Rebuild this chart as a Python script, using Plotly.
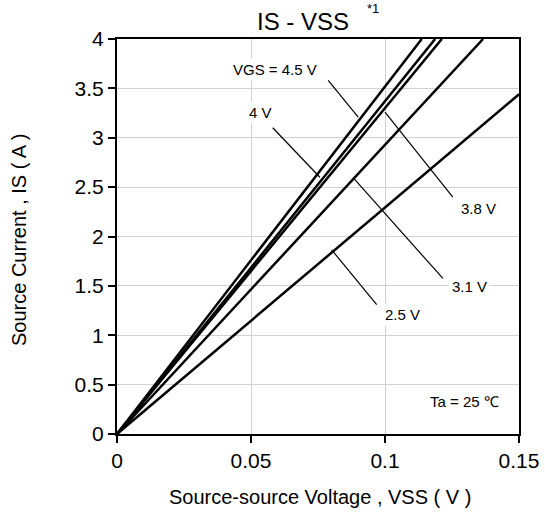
import plotly.graph_objects as go

# ---- data ----
vgs_labels = ["4.5 V", "4 V", "3.8 V", "3.1 V", "2.5 V"]
vss_end = [0.1137, 0.1187, 0.1212, 0.1366, 0.150]   # V at end of each line
is_end = [4.0, 4.0, 4.0, 4.0, 3.44]                 # A at end of each line

x_ticks = [0, 0.05, 0.1, 0.15]
x_tick_text = ["0", "0.05", "0.1", "0.15"]
y_ticks = [0, 0.5, 1, 1.5, 2, 2.5, 3, 3.5, 4]
y_tick_text = ["0", "0.5", "1", "1.5", "2", "2.5", "3", "3.5", "4"]

# label texts, positions (data coords) and leader lines (data coords)
label_text = ["VGS = 4.5 V", "4 V", "3.8 V", "3.1 V", "2.5 V"]
label_x = [0.0591, 0.0534, 0.1347, 0.1317, 0.1067]
label_y = [3.691, 3.251, 2.284, 1.494, 1.210]
leader_x0 = [0.0788, 0.0581, 0.1000, 0.0881, 0.0801]
leader_y0 = [3.580, 3.101, 3.259, 2.597, 1.865]
leader_x1 = [0.0900, 0.0757, 0.1253, 0.1216, 0.0969]
leader_y1 = [3.208, 2.600, 2.398, 1.575, 1.311]

FONT = "Liberation Sans, Arial, sans-serif"

fig = go.Figure()
for name, xe, ye in zip(vgs_labels, vss_end, is_end):
    fig.add_trace(go.Scatter(x=[0, xe], y=[0, ye], mode="lines", name=name,
                             line=dict(color="black", width=2.5), showlegend=False))

shapes = []
for x0, y0, x1, y1 in zip(leader_x0, leader_y0, leader_x1, leader_y1):
    shapes.append(dict(type="line", xref="x", yref="y", x0=x0, y0=y0, x1=x1, y1=y1,
                       line=dict(color="black", width=1.2)))

annotations = []
for t, x, y in zip(label_text, label_x, label_y):
    annotations.append(dict(x=x, y=y, xref="x", yref="y", text=t, showarrow=False,
                            font=dict(size=15, color="black", family=FONT),
                            bgcolor="white", borderpad=2))
annotations.append(dict(x=0.1295, y=0.329, xref="x", yref="y", text="Ta = 25 ℃",
                        showarrow=False, font=dict(size=15, color="black", family=FONT)))

L, R, T, B = 117, 26, 39, 79
W, H = 545, 513
pw, ph = W - L - R, H - T - B

def px_to_paper(x, y):
    return (x - L) / pw, (H - B - y) / ph

tx, ty = px_to_paper(303, 22)
annotations.append(dict(x=tx, y=ty, xref="paper", yref="paper", text="IS - VSS",
                        xanchor="center", yanchor="middle",
                        showarrow=False, font=dict(size=24, color="black", family=FONT)))
sx, sy = px_to_paper(373, 8)
annotations.append(dict(x=sx, y=sy, xref="paper", yref="paper", text="*1",
                        xanchor="center", yanchor="middle",
                        showarrow=False, font=dict(size=13, color="black", family=FONT)))
xtx, xty = px_to_paper(320, 497)
annotations.append(dict(x=xtx, y=xty, xref="paper", yref="paper",
                        text="Source-source Voltage , VSS ( V )",
                        xanchor="center", yanchor="middle",
                        showarrow=False, font=dict(size=20, color="black", family=FONT)))
ytx, yty = px_to_paper(19, 240)
annotations.append(dict(x=ytx, y=yty, xref="paper", yref="paper",
                        text="Source Current , IS ( A )", textangle=-90,
                        xanchor="center", yanchor="middle",
                        showarrow=False, font=dict(size=20, color="black", family=FONT)))

fig.update_layout(
    width=W, height=H,
    margin=dict(l=L, r=R, t=T, b=B, autoexpand=False),
    paper_bgcolor="white", plot_bgcolor="white",
    font=dict(family=FONT, color="black"),
    shapes=shapes, annotations=annotations,
    xaxis=dict(range=[0, 0.15], tickvals=x_ticks, ticktext=x_tick_text,
               showgrid=True, gridcolor="#d0d0d0", gridwidth=1,
               showline=True, linecolor="black", linewidth=2, mirror=True,
               ticks="outside", ticklen=7, tickcolor="black", tickwidth=2,
               tickfont=dict(size=21), zeroline=False, automargin=False),
    yaxis=dict(range=[0, 4], tickvals=y_ticks, ticktext=y_tick_text,
               showgrid=True, gridcolor="#d0d0d0", gridwidth=1,
               showline=True, linecolor="black", linewidth=2, mirror=True,
               ticks="outside", ticklen=7, tickcolor="black", tickwidth=2,
               tickfont=dict(size=21), zeroline=False, automargin=False),
)

fig.write_html("out.html", config={"displayModeBar": False},
               post_script="document.body.style.margin='0';document.body.style.overflow='hidden';")
